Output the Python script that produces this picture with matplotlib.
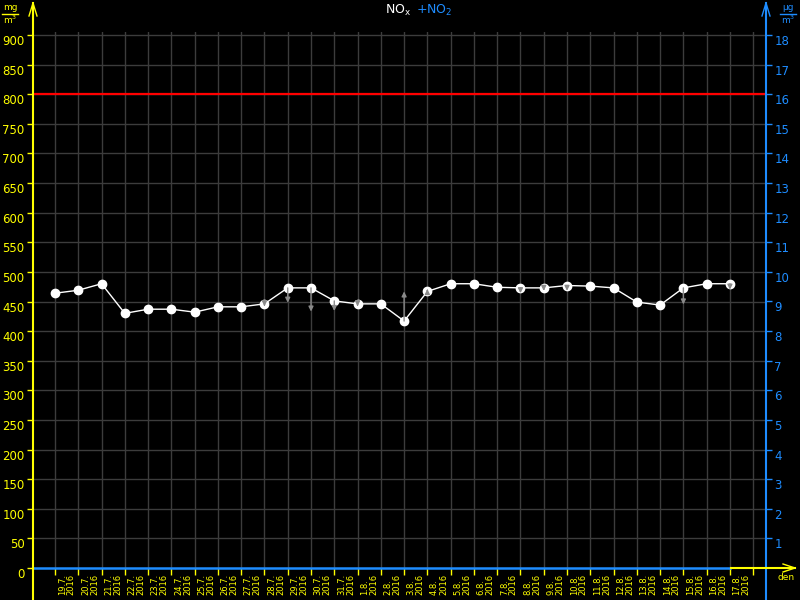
import numpy as np
import matplotlib.pyplot as plt

# data
days = ['19.7.', '20.7.', '21.7.', '22.7.', '23.7.', '24.7.', '25.7.', '26.7.', '27.7.',
        '28.7.', '29.7.', '30.7.', '31.7.', '1.8.', '2.8.', '3.8.', '4.8.', '5.8.', '6.8.',
        '7.8.', '8.8.', '9.8.', '10.8.', '11.8.', '12.8.', '13.8.', '14.8.', '15.8.',
        '16.8.', '17.8.']
year = '2016'
nox = [464, 469, 480, 430, 437, 437, 432, 441, 441, 446,
       473, 473, 451, 446, 446, 417, 467, 480, 480, 474,
       473, 473, 477, 476, 473, 449, 444, 473, 480, 480]
no2 = [0] * 30
# gray arrows: index of point -> value at arrow tip
arrow_idx = [9, 10, 11, 12, 13, 15, 16, 20, 21, 22, 27, 29]
arrow_end = [442, 448, 433, 434, 442, 467, 471, 464, 468, 468, 445, 470]
limit = 800

yellow = '#ffff00'
blue = '#1e8cff'
grid_c = '#3c3c3c'

fig = plt.figure(figsize=(8, 6), dpi=100, facecolor='black')
W, H = 800, 600
x0, x1, yb, yt = 33, 766, 568, 32
ax = fig.add_axes([x0 / W, 1 - yb / H, (x1 - x0) / W, (yb - yt) / H], facecolor='black')
xi = np.arange(len(nox))
ax.set_xlim(-0.945, 30.55)
ax.set_ylim(0, 900 * (yb - yt) / 533)
for s in ax.spines.values():
    s.set_visible(False)

# grid
for v in range(50, 901, 50):
    ax.axhline(v, color=grid_c, lw=1, zorder=1)
for i in range(0, 31):
    ax.axvline(i, color=grid_c, lw=1, zorder=1)

ax.axhline(limit, color='#ff0000', lw=1.6, zorder=2)

# NO2 series (zero) on right scale
ax2 = ax.twinx()
ax2.set_ylim(0, 18 * (yb - yt) / 533)
for s in ax2.spines.values():
    s.set_visible(False)
ax2.plot(np.r_[-0.945, xi], [0] + no2, color=blue, lw=1.8, zorder=5, clip_on=False)

ax.plot(xi, nox, color='white', lw=1, marker='o', ms=6, mec='white', mfc='white', zorder=4)
for i, e in zip(arrow_idx, arrow_end):
    ax.annotate('', xy=(i, e), xytext=(i, nox[i]),
                arrowprops=dict(arrowstyle='-|>', color='#8a8a8a', lw=1,
                                mutation_scale=7, shrinkA=0, shrinkB=0), zorder=6)

# left ticks
ax.set_yticks(range(0, 901, 50))
ax.tick_params(axis='y', colors=yellow, length=4, width=1, labelsize=8.5, pad=2)
for lab in ax.get_yticklabels():
    lab.set_va('top')
# right ticks
ax2.set_yticks(range(1, 19))
ax2.tick_params(axis='y', colors=blue, length=4, width=1, labelsize=8.5, pad=2)
for lab in ax2.get_yticklabels():
    lab.set_va('top')

# x ticks
ax.set_xticks(range(0, 31))
ax.set_xticklabels([])
ax.set_xticks(np.arange(30) + 0.5, minor=True)
ax.set_xticklabels([d + '\n' + year for d in days], minor=True, rotation=90,
                   fontsize=6, color=yellow, linespacing=1.0)
ax.tick_params(axis='x', which='major', colors=yellow, length=5, width=1)
ax.tick_params(axis='x', which='minor', length=0, pad=4)
for lab in ax.get_xticklabels(minor=True):
    lab.set_multialignment('left')

# overlay for axis lines, arrows and unit labels
ov = fig.add_axes([0, 0, 1, 1], facecolor='none')
ov.set_xlim(0, W)
ov.set_ylim(H, 0)
ov.axis('off')
ov.plot([x0, x0], [H, 3], color=yellow, lw=1.5)
ov.plot([x0 - 4, x0, x0 + 4], [16, 3, 16], color=yellow, lw=1)
ov.plot([x1, x1], [H, 3], color=blue, lw=1.5)
ov.plot([x1 - 4, x1, x1 + 4], [16, 3, 16], color=blue, lw=1)
ov.plot([731, 795], [yb, yb], color=yellow, lw=1.5)
ov.plot([783, 795, 783], [yb - 4, yb, yb + 4], color=yellow, lw=1)
ov.text(795, 577, 'den', color=yellow, fontsize=6.5, ha='right', va='center')

ov.text(10, 8, 'mg', color=yellow, fontsize=6.5, ha='center', va='center')
ov.plot([2, 18], [14, 14], color=yellow, lw=1)
ov.text(10, 20, 'm$^3$', color=yellow, fontsize=6.5, ha='center', va='center')
ov.text(788, 8, 'µg', color=blue, fontsize=6.5, ha='center', va='center')
ov.plot([780, 796], [14, 14], color=blue, lw=1)
ov.text(788, 20, 'm$^3$', color=blue, fontsize=6.5, ha='center', va='center')

ov.text(398, 10, 'NO$_\\mathregular{x}$', color='white', fontsize=9, ha='center', va='center')
ov.text(434, 10, '+NO$_\\mathregular{2}$', color=blue, fontsize=9, ha='center', va='center')

fig.savefig('out.png', dpi=100, facecolor='black')
